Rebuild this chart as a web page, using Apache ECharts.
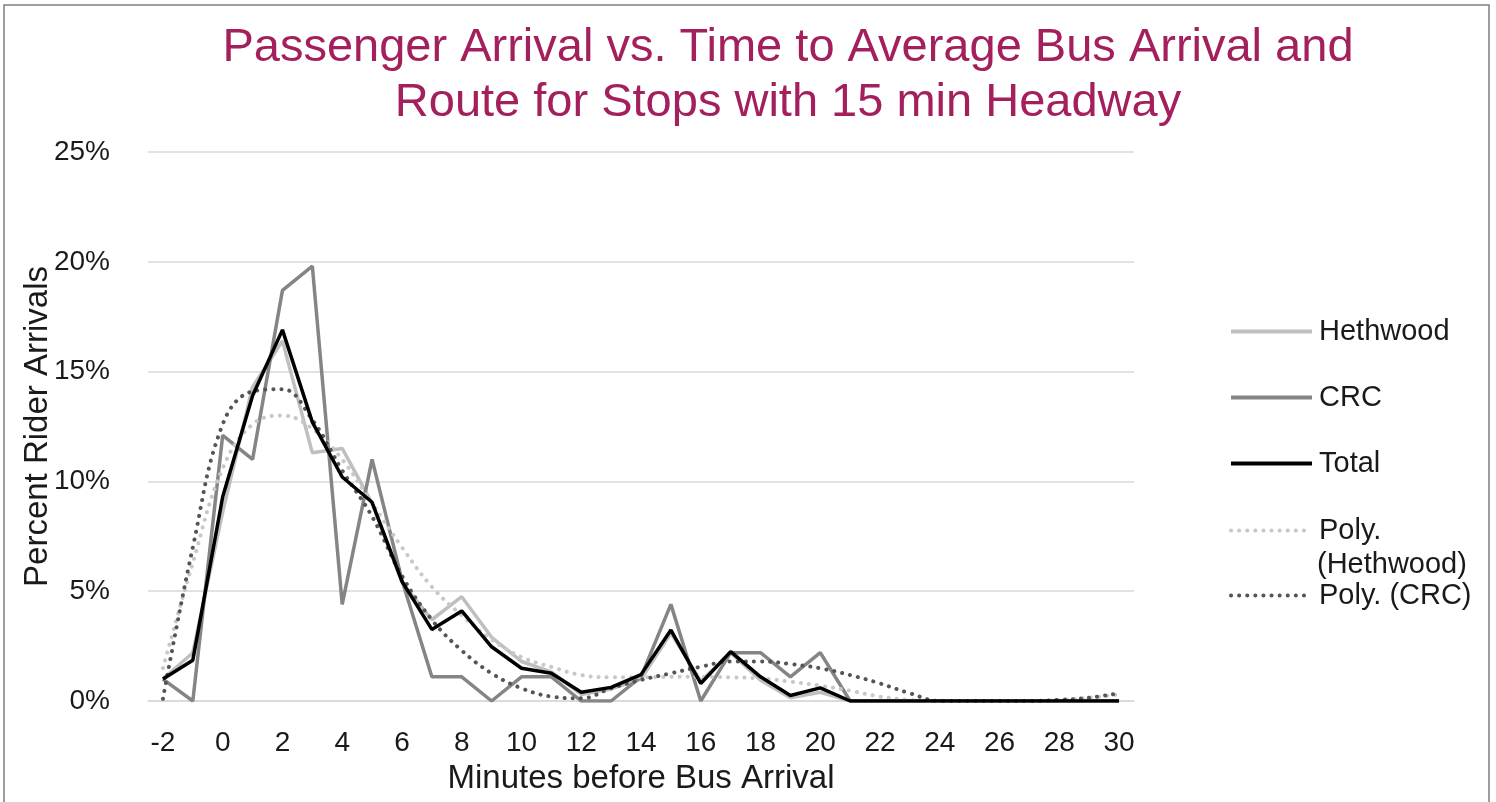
<!DOCTYPE html>
<html>
<head>
<meta charset="utf-8">
<script src="https://cdn.jsdelivr.net/npm/echarts@6/dist/echarts.min.js"></script>
<style>
html,body{margin:0;padding:0;background:#fff;}
#chart{width:1496px;height:802px;}
</style>
</head>
<body>
<div id="chart"></div>
<script>
// Minutes before bus arrival (category axis)
const minutes = ['-2','-1','0','1','2','3','4','5','6','7','8','9','10','11','12','13','14','15','16','17','18','19','20','21','22','23','24','25','26','27','28','29','30'];

// Percent rider arrivals (%)
const hethwood = [1.0, 2.2, 8.6, 14.3, 16.4, 11.3, 11.5, 9.0, 5.4, 3.7, 4.75, 2.9, 1.8, 1.33, 0.3, 0.55, 1.0, 3.1, 0.9, 2.2, 0.95, 0.15, 0.4, 0, 0, 0, 0, 0, 0, 0, 0, 0, 0];
const crc = [1.0, 0, 12.1, 11.0, 18.7, 19.8, 4.4, 11.0, 5.5, 1.1, 1.1, 0, 1.1, 1.1, 0, 0, 1.1, 4.4, 0, 2.2, 2.2, 1.1, 2.2, 0, 0, 0, 0, 0, 0, 0, 0, 0, 0];
const total = [1.0, 1.86, 9.3, 13.9, 16.9, 12.7, 10.2, 9.05, 5.45, 3.26, 4.1, 2.47, 1.49, 1.26, 0.4, 0.62, 1.2, 3.23, 0.8, 2.25, 1.1, 0.25, 0.6, 0, 0, 0, 0, 0, 0, 0, 0, 0, 0];
const polyHethwood = [1.5, 6.3, 10.6, 12.6, 13.0, 12.4, 11.0, 9.0, 7.0, 5.2, 3.9, 2.8, 2.0, 1.55, 1.18, 1.08, 1.08, 1.1, 1.1, 1.08, 1.03, 0.88, 0.7, 0.47, 0.2, 0.05, 0, 0, 0, 0, 0.05, 0.15, 0.3];
const polyCRC = [0.1, 7.0, 12.6, 14.1, 14.2, 12.8, 10.5, 8.4, 5.7, 3.7, 2.3, 1.26, 0.58, 0.2, 0.12, 0.58, 0.96, 1.26, 1.56, 1.8, 1.8, 1.68, 1.49, 1.18, 0.8, 0.35, 0, 0, 0, 0, 0.05, 0.15, 0.35];

// Y-axis ticks (%)
const yTicks = [0, 5, 10, 15, 20, 25];

const chart = echarts.init(document.getElementById('chart'));
const FONT = '"Liberation Sans", Arial, sans-serif';
const TXT = '#1a1a1a';
const dots = [0.1, 8];

const legendBase = {
  orient: 'vertical', left: 1224, itemWidth: 81, itemHeight: 14, itemGap: 0,
  textStyle: {fontFamily: FONT, fontSize: 29, color: TXT, padding: [0,0,0,2]},
  itemStyle: {color: 'rgba(0,0,0,0)', borderWidth: 0},
  lineStyle: {width: 4},
  selectedMode: false
};

chart.setOption({
  animation: false,
  backgroundColor: '#fff',
  title: {
    text: 'Passenger Arrival vs. Time to Average Bus Arrival and\nRoute for Stops with 15 min Headway',
    left: 783, top: 16, textAlign: 'center',
    textStyle: {fontFamily: FONT, fontSize: 47, fontWeight: 'normal', color: '#A3205C', lineHeight: 55}
  },
  graphic: [{
    type: 'rect', silent: true,
    shape: {x: 4, y: 5, width: 1485, height: 830},
    style: {fill: 'none', stroke: '#7f7f7f', lineWidth: 1.5}
  }, {
    type: 'text', silent: true, left: 1317, top: 550,
    style: {text: '(Hethwood)', font: '29px "Liberation Sans", Arial, sans-serif', fill: TXT}
  }],
  legend: [
    Object.assign({}, legendBase, {top: 331 - 19, data: ['Hethwood']}),
    Object.assign({}, legendBase, {top: 397 - 19, data: ['CRC']}),
    Object.assign({}, legendBase, {top: 463 - 19, data: ['Total']}),
    Object.assign({}, legendBase, {top: 530 - 19, data: ['Poly. (Hethwood)'],
      formatter: function(){ return 'Poly.'; }}),
    Object.assign({}, legendBase, {top: 595 - 19, data: ['Poly. (CRC)']})
  ],
  grid: {left: 148, right: 362, top: 152, bottom: 101, containLabel: false},
  xAxis: {
    type: 'category', data: minutes, boundaryGap: true,
    axisLine: {show: true, lineStyle: {color: '#d9d9d9', width: 1.5}},
    axisTick: {show: false},
    axisLabel: {interval: 1, margin: 28, fontFamily: FONT, fontSize: 28, color: TXT},
    name: 'Minutes before Bus Arrival', nameLocation: 'middle', nameGap: 61, nameMoveOverlap: false,
    nameTextStyle: {fontFamily: FONT, fontSize: 33, color: TXT}
  },
  yAxis: {
    type: 'value', min: yTicks[0], max: yTicks[yTicks.length - 1], interval: yTicks[1] - yTicks[0],
    axisLine: {show: false}, axisTick: {show: false},
    splitLine: {lineStyle: {color: '#d9d9d9', width: 1.5}},
    axisLabel: {formatter: '{value}%', margin: 38, fontFamily: FONT, fontSize: 28, color: TXT},
    name: 'Percent Rider Arrivals', nameLocation: 'middle', nameGap: 94, nameMoveOverlap: false,
    nameTextStyle: {fontFamily: FONT, fontSize: 33, color: TXT}
  },
  series: [
    {name: 'Hethwood', type: 'line', data: hethwood, symbol: 'none', z: 2,
      lineStyle: {color: '#BFBFBF', width: 3.5}, itemStyle: {color: '#BFBFBF'}},
    {name: 'CRC', type: 'line', data: crc, symbol: 'none', z: 3,
      lineStyle: {color: '#858585', width: 3.5}, itemStyle: {color: '#858585'}},
    {name: 'Total', type: 'line', data: total, symbol: 'none', z: 5,
      lineStyle: {color: '#000000', width: 3.5}, itemStyle: {color: '#000000'}},
    {name: 'Poly. (Hethwood)', type: 'line', data: polyHethwood, symbol: 'none', smooth: 0.4, z: 4,
      lineStyle: {color: '#C8C8C8', width: 4, type: dots, cap: 'round'}, itemStyle: {color: '#C8C8C8'}},
    {name: 'Poly. (CRC)', type: 'line', data: polyCRC, symbol: 'none', smooth: 0.4, z: 4,
      lineStyle: {color: '#555555', width: 4, type: dots, cap: 'round'}, itemStyle: {color: '#555555'}}
  ]
});
</script>
</body>
</html>
